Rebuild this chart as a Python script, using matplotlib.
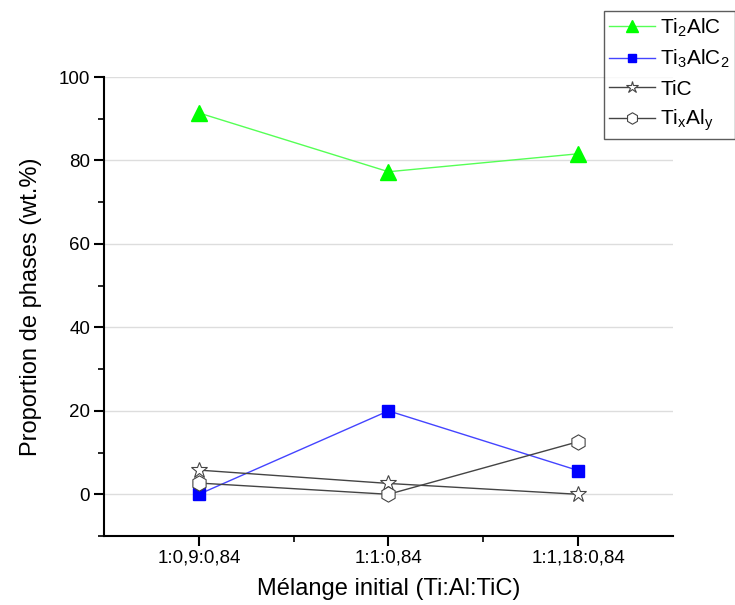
import matplotlib
matplotlib.use("Agg")
import matplotlib.pyplot as plt
from matplotlib.ticker import MultipleLocator, FixedLocator

plt.rcParams['font.family'] = ['Liberation Sans', 'DejaVu Sans']
plt.rcParams['mathtext.fontset'] = 'custom'
plt.rcParams['mathtext.rm'] = 'Liberation Sans'
plt.rcParams['mathtext.it'] = 'Liberation Sans'

# data
mixtures = ['1:0,9:0,84', '1:1:0,84', '1:1,18:0,84']
ti2alc = [91.4, 77.3, 81.6]
ti3alc2 = [0.0, 20.0, 5.7]
tic = [5.8, 2.6, 0.0]
tixaly = [2.7, 0.0, 12.6]

x = [1, 2, 3]

fig = plt.figure(figsize=(7.35, 6.05), dpi=100)
ax = fig.add_axes([0.1415, 0.114, 0.7741, 0.7587])

ax.plot(x, ti2alc, color='#55ff55', lw=1, marker='^', ms=11,
        mfc='#00ff00', mec='#00ff00', label=r'Ti$_2$AlC', zorder=3)
ax.plot(x, ti3alc2, color='#4444ff', lw=1, marker='s', ms=8,
        mfc='#0000ff', mec='#0000ff', label=r'Ti$_3$AlC$_2$', zorder=3)
ax.plot(x, tic, color='#444444', lw=1, marker='*', ms=12,
        mfc='white', mec='#444444', mew=0.8, label='TiC', zorder=3)
ax.plot(x, tixaly, color='#444444', lw=1, marker='h', ms=11,
        mfc='white', mec='#444444', mew=0.8, label=r'Ti$_x$Al$_y$', zorder=3)

ax.set_xlim(0.5, 3.5)
ax.set_ylim(-10, 100)
ax.set_xticks(x)
ax.set_xticklabels(mixtures)
ax.xaxis.set_minor_locator(FixedLocator([1.5, 2.5]))
ax.set_yticks([0, 20, 40, 60, 80, 100])
ax.yaxis.set_minor_locator(MultipleLocator(10))

ax.yaxis.grid(True, color='#dddddd', lw=1)
ax.set_axisbelow(True)

for s in ['top', 'right']:
    ax.spines[s].set_visible(False)
for s in ['left', 'bottom']:
    ax.spines[s].set_linewidth(1.5)

ax.tick_params(axis='both', which='major', direction='out', length=7, width=1.5,
               labelsize=13.5, pad=3)
ax.tick_params(axis='both', which='minor', direction='out', length=4, width=1.2)

ax.set_xlabel('Mélange initial (Ti:Al:TiC)', fontsize=17, labelpad=8)
ax.set_ylabel('Proportion de phases (wt.%)', fontsize=17, labelpad=12)

leg = fig.legend(loc='upper left', bbox_to_anchor=(604 / 735, 1 - 11 / 605),
                 fontsize=15, frameon=True, fancybox=False, edgecolor='#333333',
                 handlelength=2.2, borderpad=0.25, labelspacing=0.45,
                 handletextpad=0.25, borderaxespad=0, markerscale=0.75)
leg.get_frame().set_linewidth(1)

fig.savefig('out.png', dpi=100)
